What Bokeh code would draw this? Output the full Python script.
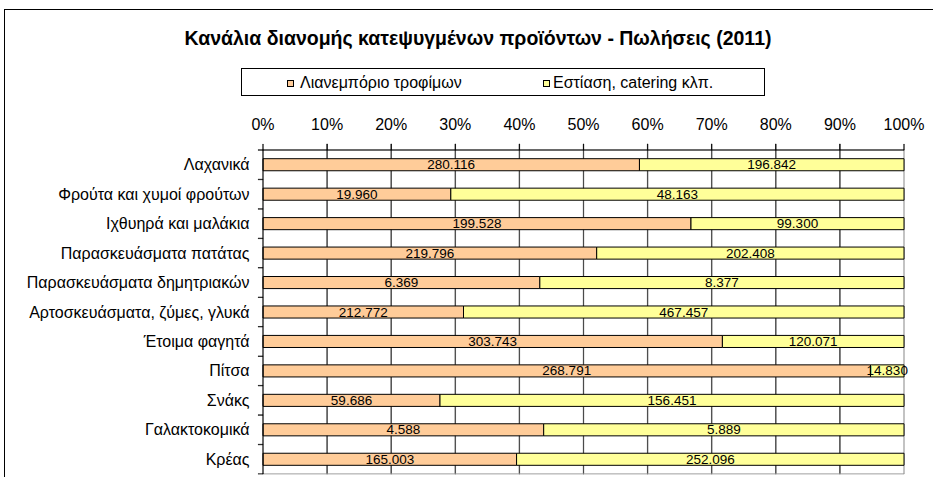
from bokeh.plotting import figure
from bokeh.layouts import column, row
from bokeh.models import (Range1d, FixedTicker, NumeralTickFormatter, ColumnDataSource, Div, Span)
from bokeh.core.properties import value
from bokeh.embed import file_html
from bokeh.resources import INLINE

# ---------------- data ----------------
title_text = "Κανάλια διανομής κατεψυγμένων προϊόντων - Πωλήσεις (2011)"
categories = ["Λαχανικά", "Φρούτα και χυμοί φρούτων", "Ιχθυηρά και μαλάκια",
              "Παρασκευάσματα πατάτας", "Παρασκευάσματα δημητριακών",
              "Αρτοσκευάσματα, ζύμες, γλυκά", "Έτοιμα φαγητά", "Πίτσα", "Σνάκς",
              "Γαλακτοκομικά", "Κρέας"]
retail = [280116, 19960, 199528, 219796, 6369, 212772, 303743, 268791, 59686, 4588, 165003]
catering = [196842, 48163, 99300, 202408, 8377, 467457, 120071, 14830, 156451, 5889, 252096]
series_names = ["Λιανεμπόριο τροφίμων", "Εστίαση, catering κλπ."]
x_ticks = [0, 0.1, 0.2, 0.3, 0.4, 0.5, 0.6, 0.7, 0.8, 0.9, 1.0]

FONT = "Liberation Sans"
ORANGE = "#FFCC99"
YELLOW = "#FFFF99"
GRID = "#4d4d4d"
BORDER = "#9a9a9a"

LEFT_W = 5          # strip holding the chart's left border line
W = 928             # width of header and chart
HEAD_H = 100
MAIN_H = 377
PX_X = 641.0        # pixels for 100 %
PX_Y = 324.0 / 11   # pixels per category band
QW = 0.25 / PX_X    # quarter pixel, horizontally (data units)
QH = 0.25 / PX_Y    # quarter pixel, vertically (data units)


def fmt(v):
    return f"{v:,}".replace(",", ".")


n = len(categories)
ys = [i + 0.5 for i in range(n)]
totals = [a + b for a, b in zip(retail, catering)]
share1 = [a / t for a, t in zip(retail, totals)]
src = ColumnDataSource(dict(
    y=ys,
    zero=[0] * n,
    one=[1] * n,
    s1=share1,
    mid1=[s / 2 for s in share1],
    mid2=[(s + 1) / 2 for s in share1],
    lab1=[fmt(v) for v in retail],
    lab2=[fmt(v) for v in catering],
))

# ---------------- header: title + legend ----------------
def marker(left, color):
    return (f'<div style="position:absolute;box-sizing:border-box;left:{left}px;top:80px;'
            f'width:7px;height:7px;background:{color};border:1px solid #000;"></div>')


def legend_text(left, txt):
    return (f'<div style="position:absolute;left:{left}px;top:74px;line-height:18px;'
            f'font-size:16px;white-space:nowrap;">{txt}</div>')


head_html = (
    f'<div style="position:relative;width:{W}px;height:{HEAD_H}px;'
    f'font-family:\'{FONT}\';color:#000;">'
    f'<div style="position:absolute;left:0;top:9px;width:{W}px;height:1px;background:#000;"></div>'
    f'<div style="position:absolute;left:0;top:26px;width:946px;text-align:center;'
    f'font-size:19.5px;font-weight:bold;line-height:24px;white-space:nowrap;">{title_text}</div>'
    f'<div style="position:absolute;box-sizing:border-box;left:236px;top:68px;width:524px;'
    f'height:28px;border:1px solid #000;"></div>'
    + marker(282, ORANGE) + legend_text(295, series_names[0])
    + marker(538, YELLOW) + legend_text(548, series_names[1])
    + '</div>'
)
header = Div(text=head_html, width=W, height=HEAD_H, margin=0)

left_border = Div(
    text=(f'<div style="position:relative;width:{LEFT_W}px;height:{HEAD_H + MAIN_H}px;">'
          f'<div style="position:absolute;left:4px;top:9px;width:1px;'
          f'height:{HEAD_H + MAIN_H - 9}px;background:#000;"></div></div>'),
    width=LEFT_W, height=HEAD_H + MAIN_H, margin=0)

# ---------------- main chart ----------------
# frame is 651 x 331 px: it includes 5.5 px left of 0 %, 6.5 px above the first band
# and a few px right of 100 % so that the last data label is not cut
x0 = -5.5 / PX_X
y_top = -6.5 / PX_Y
p = figure(width=W, height=MAIN_H, output_backend="svg", toolbar_location=None,
           x_range=Range1d(x0, x0 + 651 / PX_X),
           y_range=Range1d(y_top + 331 / PX_Y, y_top),
           x_axis_location="above",
           min_border_left=252, min_border_right=25, min_border_top=43, min_border_bottom=3)
p.background_fill_color = None
p.border_fill_color = None
p.outline_line_color = None
p.grid.visible = False


def vlines(xs, y0, y1, color):
    """Vertical 1 px rules, drawn as thin filled and stroked bars."""
    s = ColumnDataSource(dict(y=[(y0 + y1) / 2] * len(xs), h=[y1 - y0] * len(xs),
                              l=[x - QW for x in xs], r=[x + QW for x in xs]))
    p.hbar(y="y", height="h", left="l", right="r", source=s,
           fill_color=color, line_color=color, line_width=0.5)


def hlines(ys_, x0_, x1_, color):
    """Horizontal 1 px rules, drawn as thin filled and stroked bars."""
    s = ColumnDataSource(dict(y=list(ys_), h=[2 * QH] * len(ys_),
                              l=[x0_] * len(ys_), r=[x1_] * len(ys_)))
    p.hbar(y="y", height="h", left="l", right="r", source=s,
           fill_color=color, line_color=color, line_width=0.5)


# vertical gridlines (also as spans) and the grey right/bottom edges of the plot area
for t in x_ticks[1:-1]:
    p.add_layout(Span(location=t, dimension="height", line_color=GRID, line_width=1,
                      level="underlay"))
vlines(x_ticks[1:-1], 0, n, GRID)
vlines([1], 0, n, BORDER)
hlines([n], 0, 1, BORDER)

r1 = p.hbar(y="y", left="zero", right="s1", height=0.41, source=src,
            fill_color=ORANGE, line_color="black", line_width=1)
r2 = p.hbar(y="y", left="s1", right="one", height=0.41, source=src,
            fill_color=YELLOW, line_color="black", line_width=1)

# axis lines (top value axis, left category axis) and their tick marks
hlines([0], 0, 1, "black")
vlines([0], 0, n, "black")
vlines(x_ticks, -6 / PX_Y, 0, "black")
hlines(list(range(n + 1)), -5 / PX_X, 0, "black")

# data labels
for xcol, tcol in (("mid1", "lab1"), ("mid2", "lab2")):
    p.text(x=xcol, y="y", text=tcol, source=src,
           text_align="center", text_baseline="middle",
           text_font=value(FONT), text_font_size=value("13.5px"), text_color="black")

xa = p.xaxis[0]
xa.ticker = FixedTicker(ticks=x_ticks, minor_ticks=[])
xa.formatter = NumeralTickFormatter(format="0%")
xa.axis_line_color = None
xa.major_tick_line_color = None
xa.minor_tick_line_color = None
xa.major_tick_out = 0
xa.major_tick_in = 0
xa.minor_tick_out = 0
xa.minor_tick_in = 0
xa.major_label_standoff = 11
xa.major_label_text_font = FONT
xa.major_label_text_font_size = "16px"
xa.major_label_text_color = "black"

ya = p.yaxis[0]
ya.ticker = FixedTicker(ticks=ys, minor_ticks=[])
ya.major_label_overrides = {y: c for y, c in zip(ys, categories)}
ya.axis_line_color = None
ya.major_tick_line_color = None
ya.minor_tick_line_color = None
ya.major_tick_out = 0
ya.major_tick_in = 0
ya.minor_tick_out = 0
ya.minor_tick_in = 0
ya.major_label_standoff = 8
ya.major_label_text_font = FONT
ya.major_label_text_font_size = "16px"
ya.major_label_text_color = "black"

layout = row(left_border, column(header, p, spacing=0), spacing=0)
open("out.html", "w").write(file_html(layout, INLINE))
